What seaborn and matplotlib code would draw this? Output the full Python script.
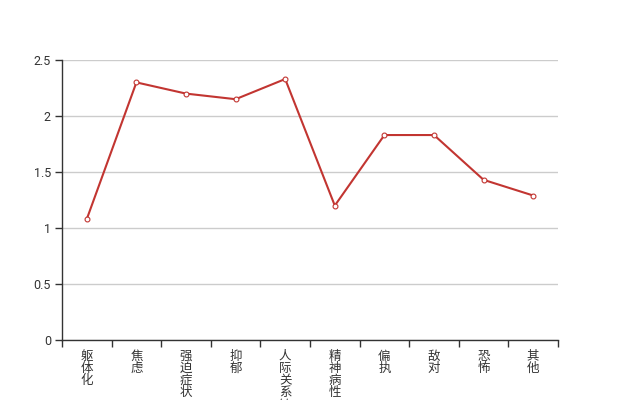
import matplotlib
matplotlib.use("Agg")
import matplotlib.pyplot as plt
import seaborn as sns
import pandas as pd

categories = ["躯体化", "焦虑", "强迫症状", "抑郁", "人际关系敏感", "精神病性", "偏执", "敌对", "恐怖", "其他"]
values = [1.08, 2.30, 2.20, 2.15, 2.33, 1.20, 1.83, 1.83, 1.43, 1.29]
y_ticks = [0, 0.5, 1, 1.5, 2, 2.5]
y_tick_labels = ["0", "0.5", "1", "1.5", "2", "2.5"]

sns.set_style("white")
plt.rcParams['font.family'] = ['Noto Sans CJK SC', 'DejaVu Sans']

df = pd.DataFrame({"cat": categories, "val": values, "pos": range(len(categories))})

fig = plt.figure(figsize=(6.2, 4.0), dpi=100)
ax = fig.add_axes([62/620, 60/400, 496/620, 280/400])

sns.lineplot(data=df, x="pos", y="val", ax=ax, color="#c23531", linewidth=1.5,
             marker="o", markersize=3.5, markerfacecolor="white",
             markeredgecolor="#c23531", markeredgewidth=0.8, zorder=3)

n = len(categories)
ax.set_xlim(-0.5, n - 0.5)
ax.set_ylim(0, 2.5)
ax.set_yticks(y_ticks)
ax.set_yticklabels(y_tick_labels, family=['Roboto', 'DejaVu Sans'])
ax.set_xticks([i - 0.5 for i in range(n + 1)])
ax.set_xticklabels([])
ax.set_xticks(list(range(n)), minor=True)
ax.set_xticklabels(["\n".join(c) for c in categories], minor=True, va="top", linespacing=0.92)
ax.tick_params(axis="x", which="major", bottom=True, length=5, width=1, color="#333333", direction="out")
ax.tick_params(axis="x", which="minor", bottom=True, length=0, pad=7, labelsize=9, labelcolor="#333333")
ax.tick_params(axis="y", left=True, length=5, width=1, color="#333333", direction="out", labelsize=9, labelcolor="#333333", pad=3)
ax.grid(axis="y", color="#cccccc", linewidth=1)
ax.set_axisbelow(True)
ax.set_xlabel("")
ax.set_ylabel("")
for s in ["top", "right"]:
    ax.spines[s].set_visible(False)
for s in ["left", "bottom"]:
    ax.spines[s].set_color("#333333")
    ax.spines[s].set_linewidth(1)

fig.savefig("out.png", dpi=100)
